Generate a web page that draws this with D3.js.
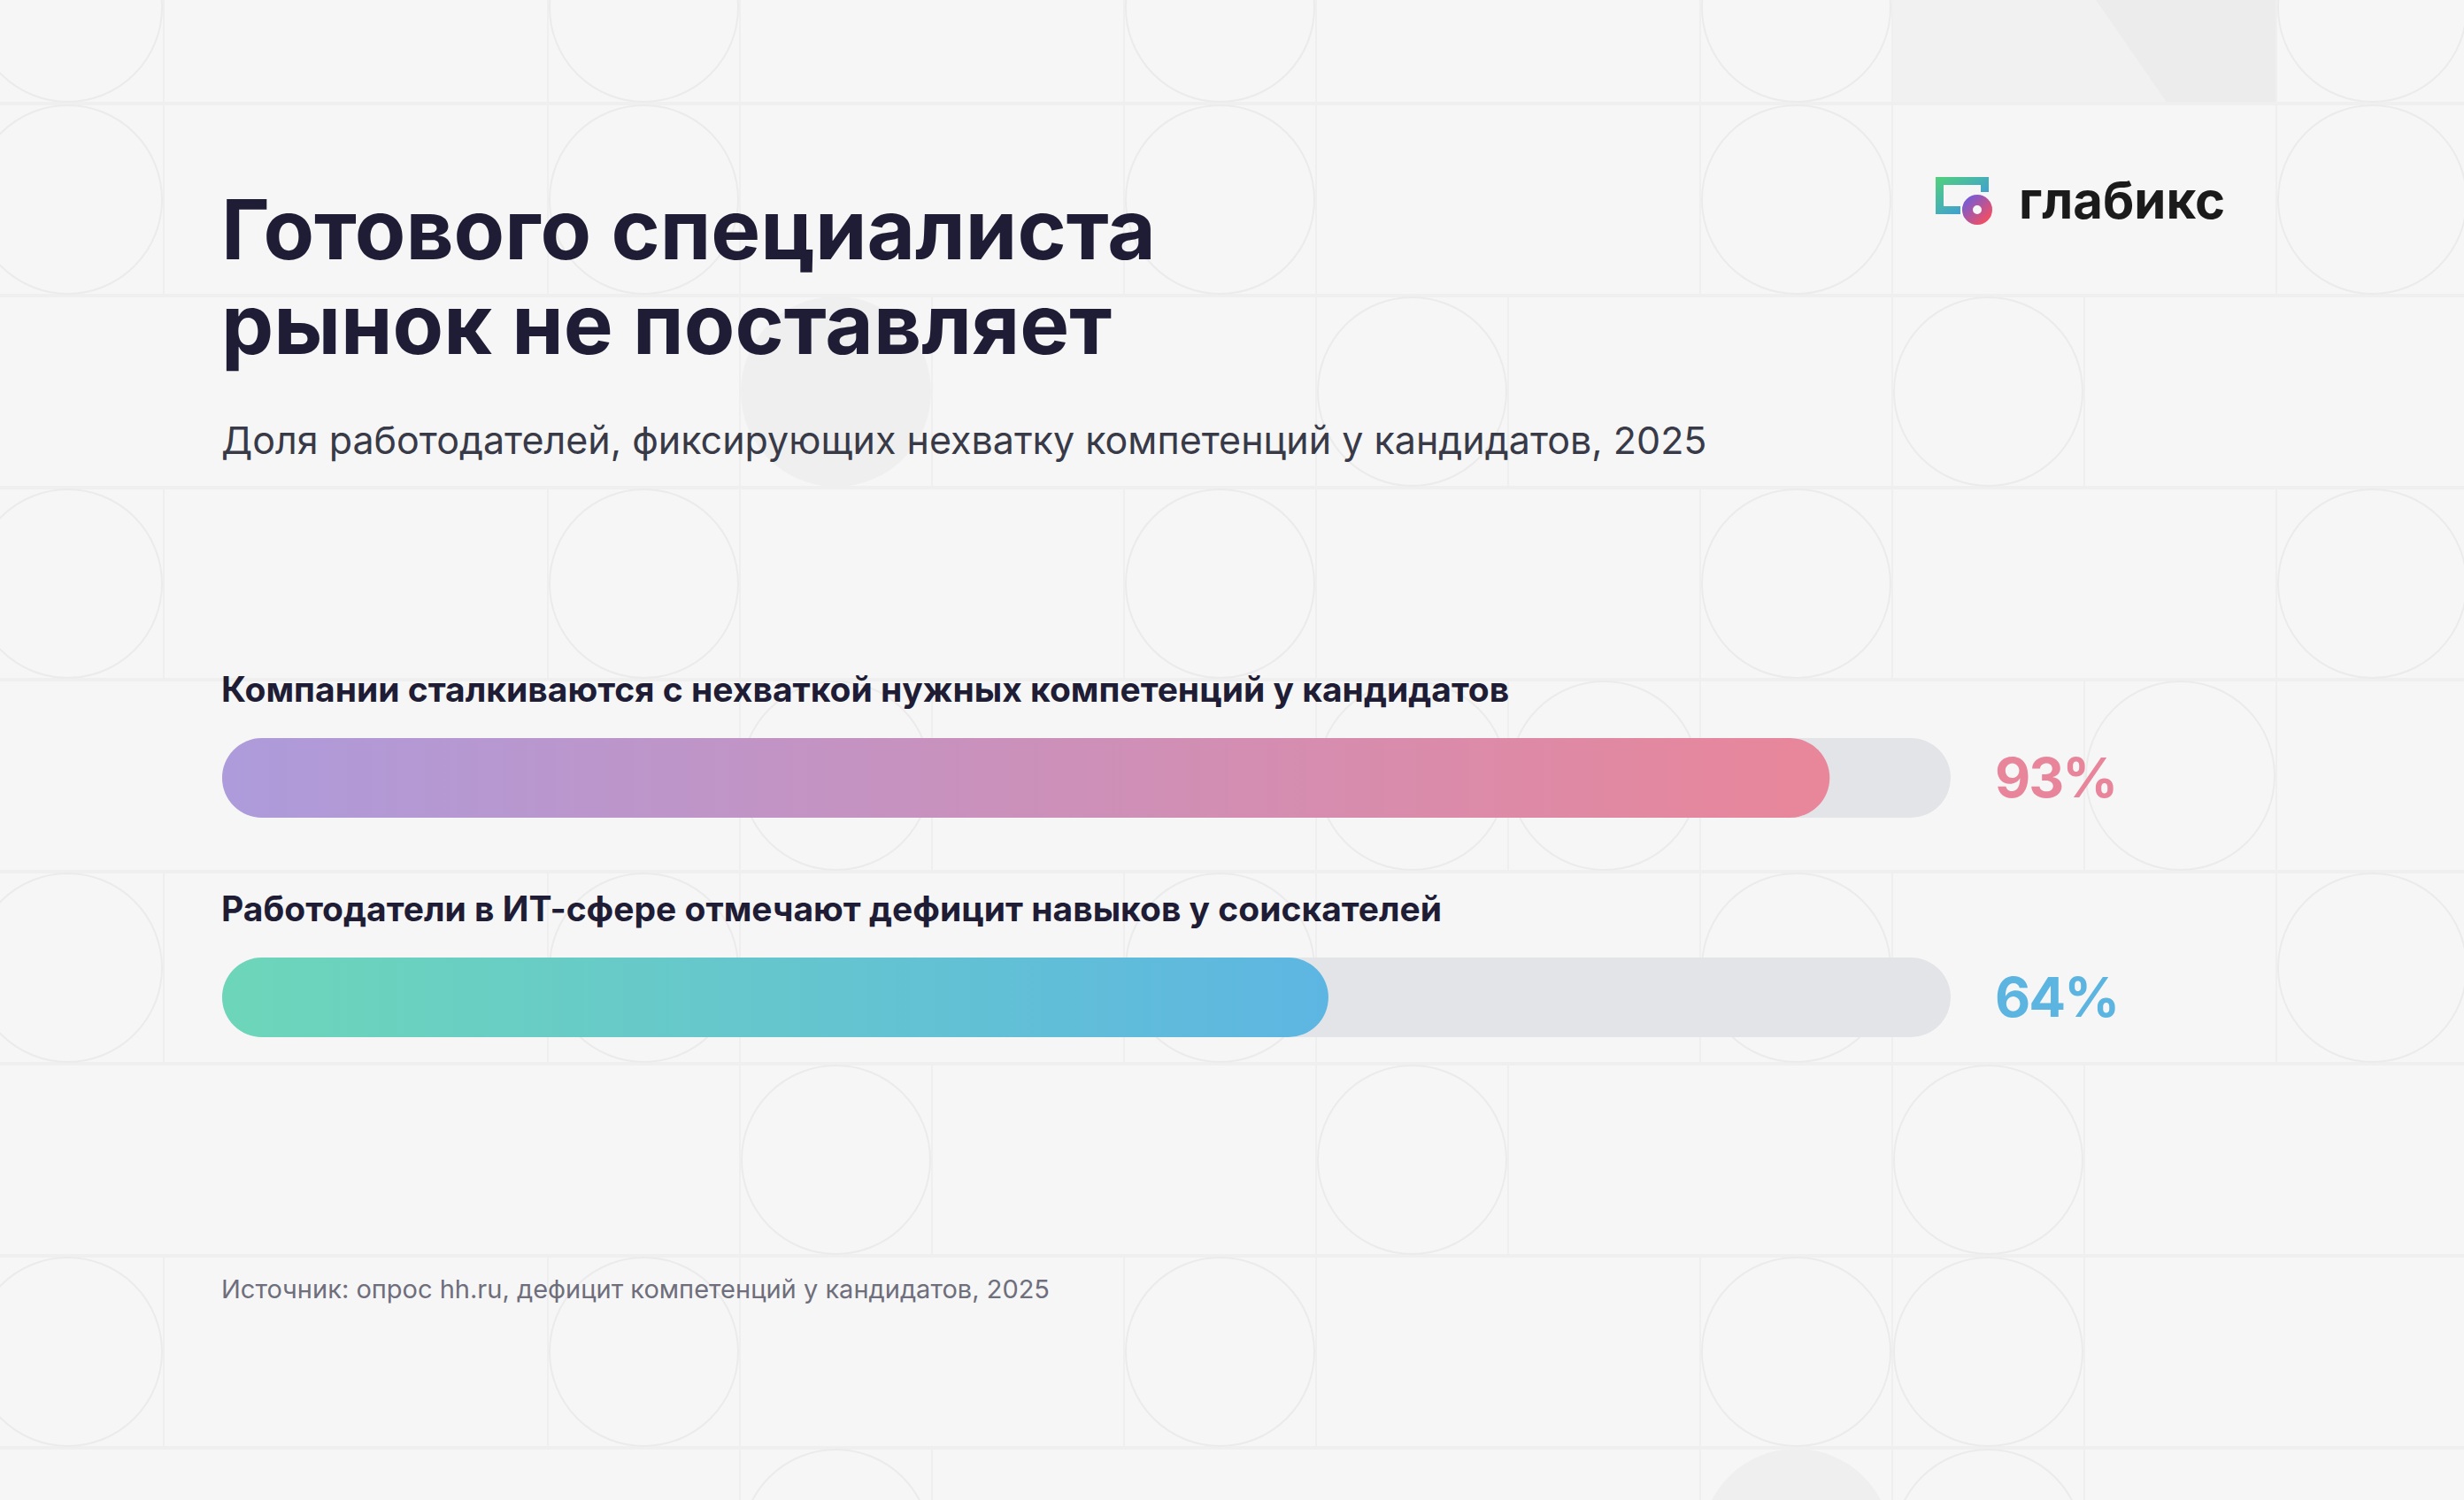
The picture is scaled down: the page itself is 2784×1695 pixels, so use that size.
<!DOCTYPE html>
<html lang="ru">
<head>
<meta charset="UTF-8">
<title>Готового специалиста рынок не поставляет</title>
<script src="https://d3js.org/d3.v7.min.js"></script>
<style>
  html, body { margin: 0; padding: 0; background: #f6f6f6; }
  svg { display: block; }
  text { font-family: Inter, "Noto Sans", sans-serif; }
</style>
</head>
<body>
<svg width="2784" height="1695"></svg>
<script>
// данные
const categories = [
  "Компании сталкиваются с нехваткой нужных компетенций у кандидатов",
  "Работодатели в ИТ-сфере отмечают дефицит навыков у соискателей"
];
const values = [93, 64];
const gradStart = ["#ad9bdb", "#6dd6b9"];
const gradEnd = ["#e9869a", "#5db6e2"];
const valueColors = ["#e8859b", "#5cb4e1"];

const titleLines = ["Готового специалиста", "рынок не поставляет"];
const subtitle = "Доля работодателей, фиксирующих нехватку компетенций у кандидатов, 2025";
const source = "Источник: опрос hh.ru, дефицит компетенций у кандидатов, 2025";
const logoText = "глабикс";

// фоновый узор: [ряд, колонка]
const bgCircles = [
  [0,0],[0,3],[0,6],[0,9],[0,12],
  [1,0],[1,3],[1,6],[1,9],[1,12],
  [2,7],[2,10],
  [3,0],[3,3],[3,6],[3,9],[3,12],
  [4,4],[4,7],[4,8],[4,11],
  [5,0],[5,3],[5,6],[5,9],[5,12],
  [6,4],[6,7],[6,10],
  [7,0],[7,3],[7,6],[7,9],[7,10],
  [8,4],[8,10]
];
const bgFilled = [[2,4],[8,9]];

const width = 2784, height = 1695;
const cell = 217, gx0 = -32, gy0 = -100;
const cx = c => gx0 + c * cell;
const cy = r => gy0 + r * cell;

const svg = d3.select("svg");
const defs = svg.append("defs");

// фон
svg.append("rect").attr("width", width).attr("height", height).attr("fill", "#f6f6f6");

const bg = svg.append("g").attr("class", "bg");

// блок справа сверху
bg.append("rect")
  .attr("x", cx(10)).attr("y", cy(0))
  .attr("width", cell * 2).attr("height", cell)
  .attr("fill", "#f1f1f1");
bg.append("polygon")
  .attr("points", [[2299, -100], [cx(12), -100], [cx(12), 117], [2449, 117]].join(" "))
  .attr("fill", "#ececec");

bg.selectAll("circle.filled")
  .data(bgFilled)
  .join("circle")
  .attr("class", "filled")
  .attr("cx", d => cx(d[1]) + cell / 2)
  .attr("cy", d => cy(d[0]) + cell / 2)
  .attr("r", cell / 2 - 1)
  .attr("fill", "#efefef");

bg.selectAll("line.h")
  .data(d3.range(1, 9))
  .join("line")
  .attr("class", "h")
  .attr("x1", 0).attr("x2", width)
  .attr("y1", d => cy(d)).attr("y2", d => cy(d))
  .attr("stroke", "#efefef")
  .attr("stroke-width", 4);

// вертикальные линии по бокам клеток с кругами
const vSegs = [];
bgCircles.concat(bgFilled).forEach(([r, c]) => {
  vSegs.push([r, c]);
  vSegs.push([r, c + 1]);
});
bg.selectAll("line.v")
  .data(vSegs)
  .join("line")
  .attr("class", "v")
  .attr("x1", d => cx(d[1])).attr("x2", d => cx(d[1]))
  .attr("y1", d => cy(d[0])).attr("y2", d => cy(d[0] + 1))
  .attr("stroke", "#efefef")
  .attr("stroke-width", 2);

bg.selectAll("circle.o")
  .data(bgCircles)
  .join("circle")
  .attr("class", "o")
  .attr("cx", d => cx(d[1]) + cell / 2)
  .attr("cy", d => cy(d[0]) + cell / 2)
  .attr("r", cell / 2 - 2)
  .attr("fill", "none")
  .attr("stroke", "#ebebeb")
  .attr("stroke-width", 2);

// заголовок
svg.append("g")
  .selectAll("text")
  .data(titleLines)
  .join("text")
  .attr("x", 250)
  .attr("y", (d, i) => 293 + i * 107)
  .attr("font-size", 94)
  .attr("font-weight", 700)
  .attr("fill", "#1f1d36")
  .text(d => d);

svg.append("text")
  .attr("x", 250).attr("y", 513)
  .attr("font-size", 43)
  .attr("fill", "#393a48")
  .text(subtitle);

// шкалы
const x = d3.scaleLinear().domain([0, 100]).range([251, 2204]);
const y = d3.scaleBand().domain(categories).range([760, 1256]);
const barH = 90;

values.forEach((v, i) => {
  const g = defs.append("linearGradient").attr("id", "grad" + i);
  g.append("stop").attr("offset", "0%").attr("stop-color", gradStart[i]);
  g.append("stop").attr("offset", "100%").attr("stop-color", gradEnd[i]);
});

const rows = svg.append("g")
  .selectAll("g")
  .data(categories.map((c, i) => ({ cat: c, value: values[i], i })))
  .join("g")
  .attr("transform", d => `translate(0,${y(d.cat)})`);

rows.append("text")
  .attr("x", 250).attr("y", 33)
  .attr("font-size", 39)
  .attr("font-weight", 700)
  .attr("fill", "#1f1d36")
  .text(d => d.cat);

rows.append("rect")
  .attr("x", x(0)).attr("y", 74)
  .attr("width", x(100) - x(0)).attr("height", barH)
  .attr("rx", barH / 2)
  .attr("fill", "#e3e4e8");

rows.append("rect")
  .attr("x", x(0)).attr("y", 74)
  .attr("width", d => x(d.value) - x(0)).attr("height", barH)
  .attr("rx", barH / 2)
  .attr("fill", d => `url(#grad${d.i})`);

rows.append("text")
  .attr("x", 2254).attr("y", 74 + barH / 2 + 22)
  .attr("font-size", 62)
  .attr("font-weight", 700)
  .attr("letter-spacing", -2)
  .attr("fill", d => valueColors[d.i])
  .text(d => d.value + "%");

svg.append("text")
  .attr("x", 250).attr("y", 1467)
  .attr("font-size", 29)
  .attr("fill", "#6e6e7c")
  .text(source);

// логотип
const frameGrad = defs.append("linearGradient").attr("id", "frameGrad")
  .attr("x1", "0%").attr("y1", "0%").attr("x2", "100%").attr("y2", "100%");
frameGrad.append("stop").attr("offset", "0%").attr("stop-color", "#52d27a");
frameGrad.append("stop").attr("offset", "100%").attr("stop-color", "#3a8df2");
const ringGrad = defs.append("linearGradient").attr("id", "ringGrad")
  .attr("x1", "0%").attr("y1", "0%").attr("x2", "100%").attr("y2", "100%");
ringGrad.append("stop").attr("offset", "0%").attr("stop-color", "#7b5bd0");
ringGrad.append("stop").attr("offset", "100%").attr("stop-color", "#ee4f66");

const logo = svg.append("g");
logo.append("path")
  .attr("d", "M2187,200 H2247 V217 H2238 V209 H2196 V233 H2215 V242 H2187 Z")
  .attr("fill", "url(#frameGrad)");
logo.append("circle")
  .attr("cx", 2234).attr("cy", 237).attr("r", 18.5)
  .attr("fill", "#f6f6f6");
logo.append("circle")
  .attr("cx", 2234).attr("cy", 237).attr("r", 11)
  .attr("fill", "none")
  .attr("stroke", "url(#ringGrad)")
  .attr("stroke-width", 12);
logo.append("text")
  .attr("x", 2281).attr("y", 247)
  .attr("font-size", 58)
  .attr("font-weight", 700)
  .attr("fill", "#1b1b1b")
  .text(logoText);
</script>
</body>
</html>
